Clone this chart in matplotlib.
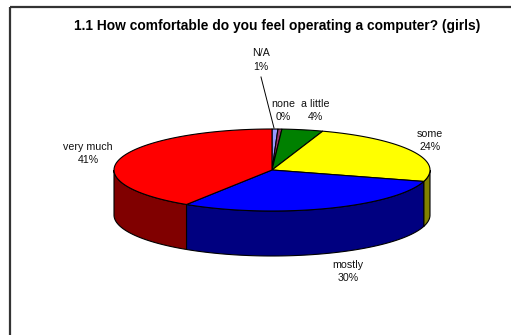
import numpy as np
import matplotlib
matplotlib.use("Agg")
from matplotlib import pyplot as plt
from matplotlib.patches import Polygon, Rectangle

plt.rcParams['font.family'] = ['Liberation Sans', 'DejaVu Sans']

title = "1.1 How comfortable do you feel operating a computer? (girls)"
categories = ["N/A", "none", "a little", "some", "mostly", "very much"]
shares = [0.6, 0.4, 4.2, 24.3, 29.6, 40.9]  # percent
top_colors = ["#9999FF", "#993366", "#008000", "#FFFF00", "#0000FF", "#FF0000"]
side_colors = ["#4C4C80", "#4C1933", "#004000", "#808000", "#000080", "#800000"]
# label centres (pixels)
label_pos = [(261, 60), (283, 110.5), (315, 110.5), (430, 140.5), (348, 271.5), (88, 153.5)]

cx, cy = 272, 170   # pie centre
rx, ry = 158, 41    # ellipse radii
depth = 45          # thickness of the pie

fig = plt.figure(figsize=(5.11, 3.35), dpi=100)
ax = fig.add_axes([0, 0, 1, 1])
ax.set_xlim(0, 511)
ax.set_ylim(335, 0)
ax.axis("off")

# chart frame (runs off the right/bottom edge)
ax.add_patch(Rectangle((9.5, 6.5), 600, 400, fill=False, lw=1.6, edgecolor="#333333"))


def arc(t0, t1, dy=0, n=80):
    t = np.radians(np.linspace(t0, t1, n))
    return np.column_stack([cx + rx*np.cos(t), cy - ry*np.sin(t) + dy])


total = sum(shares)
bounds = []
start = 90.0
for s in shares:
    end = start - 360.0*s/total
    bounds.append((start, end))
    start = end

# sides (front half only: t in [-180, 0])
for (t0, t1), col in zip(bounds, side_colors):
    a = min(t0, 0.0)
    b = max(t1, -180.0)
    if a <= b:
        continue
    pts = np.vstack([arc(a, b), arc(b, a, dy=depth)])
    ax.add_patch(Polygon(pts, closed=True, facecolor=col, edgecolor="black", lw=0.8))

# top face
for (t0, t1), col in zip(bounds, top_colors):
    pts = np.vstack([[cx, cy], arc(t0, t1)])
    ax.add_patch(Polygon(pts, closed=True, facecolor=col, edgecolor="black", lw=0.8))

ax.text(277, 26, title, ha="center", va="center", fontsize=9.9, fontweight="bold")

for name, s, (lx, ly) in zip(categories, shares, label_pos):
    ax.text(lx, ly, f"{name}\n{s:.0f}%", ha="center", va="center",
            fontsize=7.7, linespacing=1.4, color="#111111")

# leader line for N/A
ax.plot([261, 274], [77, 128], color="black", lw=0.7)

fig.savefig("out.png", dpi=100)
